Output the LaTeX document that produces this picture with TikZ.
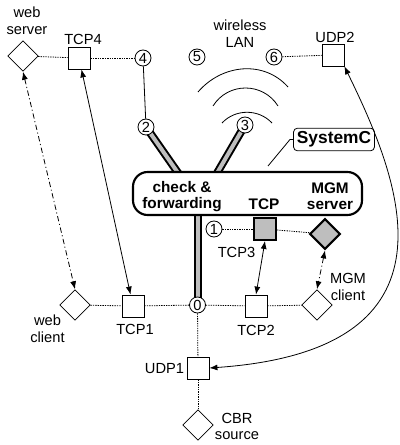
\documentclass[tikz,border=0pt]{standalone}
\usepackage{fontspec}
\setmainfont{Liberation Sans}
\usetikzlibrary{shapes.geometric,arrows.meta,backgrounds}
\definecolor{fillg}{RGB}{190,190,190}
\begin{document}
\begin{tikzpicture}[x=0.75pt,y=-0.75pt,
  lab/.style={font=\fontsize{11}{12.5}\selectfont, align=center, inner sep=0pt},
  bold/.style={font=\bfseries\fontsize{11.5}{12}\selectfont, align=center, inner sep=0pt},
  sq/.style={draw, line width=0.6pt, minimum size=16.5pt, inner sep=0pt, fill=white},
  dia/.style={draw, diamond, aspect=1, minimum width=23pt, minimum height=23pt, inner sep=0pt, line width=0.6pt, fill=white},
  cn/.style={draw, circle, minimum size=12pt, inner sep=0pt, line width=0.6pt, fill=white, font=\fontsize{11}{12}\selectfont},
  dot/.style={line width=0.6pt, dash pattern=on 1pt off 0.8pt},
  dd/.style={line width=0.6pt, dash pattern=on 4pt off 2pt on 0.8pt off 2pt},
  ln/.style={line width=0.6pt},
  >={Latex[length=6pt,width=4.5pt]},
  barout/.style={line width=6pt, black},
  barin/.style={line width=3pt, fillg},
]
\useasboundingbox (0,0) rectangle (399,445);

% nodes
\node[dia] (ws) at (23,56) {};
\node[sq] (tcp4) at (79,58) {};
\node[cn] (c4) at (143,58) {4};
\node[cn] (c5) at (197,57) {5};
\node[cn] (c6) at (274,57) {6};
\node[sq] (udp2) at (333,55) {};
\node[cn] (c2) at (146,127) {2};
\node[cn] (c3) at (245,125) {3};

\node[draw, line width=1.6pt, rounded corners=11pt, minimum width=171.75pt, minimum height=32.25pt, fill=white] (box) at (247.5,193.5) {};
\node[bold] (cf) at (182,197) {check \&\\forwarding};
\node[bold, anchor=base] (tcpt) at (264,209) {TCP};
\node[bold] (mgmt) at (330,196) {MGM\\server};

\node[draw, rounded corners=3pt, line width=0.6pt, font=\bfseries\fontsize{13}{14}\selectfont, minimum width=60.75pt, minimum height=17pt, inner sep=0pt] (sysc) at (334,139.5) {SystemC};

\node[cn] (c1) at (214,229) {1};
\node[sq, fill=fillg, line width=1.4pt] (tcp3) at (265,229) {};
\node[dia, fill=fillg, line width=1.6pt] (mgms) at (325,234) {};
\node[dia] (wc) at (75,305) {};
\node[sq] (tcp1) at (133,306) {};
\node[cn] (c0) at (197.5,305) {0};
\node[sq] (tcp2) at (256,306) {};
\node[dia] (mgmc) at (317,305) {};
\node[sq] (udp1) at (198,368) {};
\node[dia] (cbr) at (198,425) {};

% labels
\node[lab] (lws) at (27,21) {web\\server};
\node[lab] (ltcp4) at (83,39) {TCP4};
\node[lab] (lwl) at (240,33.5) {wireless\\LAN};
\node[lab] (ludp2) at (335,37) {UDP2};
\node[lab] (ltcp1) at (135,329) {TCP1};
\node[lab] (ltcp2) at (256,330) {TCP2};
\node[lab] (lwc) at (47.5,328.5) {web\\client};
\node[lab] (lmgmc) at (348,287) {MGM\\client};
\node[lab] (ltcp3) at (236.5,252) {TCP3};
\node[lab] (ludp1) at (164.5,369) {UDP1};
\node[lab] (lcbr) at (237,426.5) {CBR\\source};

% thick bars
\coordinate (b2) at (183,180);
\coordinate (b3) at (213,180);
\coordinate (b0) at (197.5,200);
\begin{pgfonlayer}{background}
\draw[barout] (c2.center) -- (b2);
\draw[barin] (c2.center) -- (b2);
\draw[barout] (c3.center) -- (b3);
\draw[barin] (c3.center) -- (b3);
\draw[barout] (c0.center) -- (b0);
\draw[barin] (c0.center) -- (b0);
\end{pgfonlayer}

% wireless arcs
\draw[ln] (222,123) .. controls (235.4,108.7) and (258.6,108.7) .. (272,123);
\draw[ln] (213,106) .. controls (228,82) and (263,82) .. (278,106);
\draw[ln] (198,92) .. controls (222,64) and (264,60) .. (288,87);

% SystemC leader
\coordinate (sl) at (268,166);
\draw[ln] (sl) -- (290,139.5) -- (sysc.west);

% connectors
\draw[dot] (ws) -- (tcp4);
\draw[dot] (tcp4) -- (c4);
\draw[ln] (c4) -- (c2);
\draw[dot] (c6) -- (udp2);
\draw[dot] (c1) -- (tcp3);
\draw[dot] (tcp3) -- (mgms);
\draw[dot] (wc) -- (tcp1);
\draw[dot] (tcp1) -- (c0);
\draw[dot] (c0) -- (tcp2);
\draw[dot] (tcp2) -- (mgmc);
\draw[dot] (c0) -- (udp1);
\draw[dot] (udp1) -- (cbr);
\draw[ln,<->] (tcp4) -- (tcp1);
\draw[dd,<->] (ws.south) -- (wc.north);
\draw[ln,<->] (tcp3.south) -- (tcp2.north);
\draw[dd,<->] (mgms.south) -- (mgmc.north);
\draw[ln,<->] (udp2.south east) .. controls (400,180) and (470,350) .. (udp1.east);
\end{tikzpicture}
\end{document}
